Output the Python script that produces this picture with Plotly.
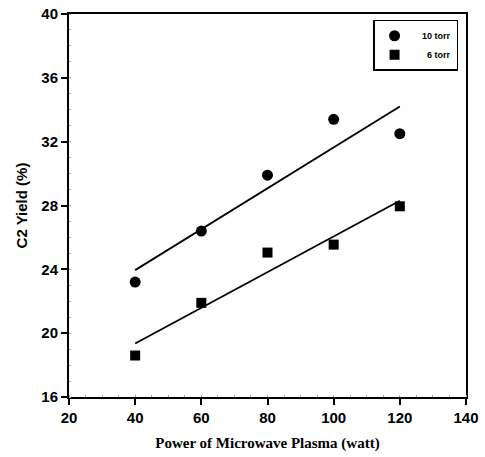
import plotly.graph_objects as go

power = [40, 60, 80, 100, 120]
yield_10torr = [23.2, 26.4, 29.9, 33.4, 32.5]
yield_6torr = [18.6, 21.9, 25.05, 25.55, 27.95]
fit_x = [40, 120]
fit_10torr = [23.95, 34.2]
fit_6torr = [19.35, 28.3]
x_ticks = [20, 40, 60, 80, 100, 120, 140]
y_ticks = [16, 20, 24, 28, 32, 36, 40]

fig = go.Figure()
fig.add_trace(go.Scatter(x=power, y=yield_10torr, mode="markers", name="<b>   10 torr</b>",
                         marker=dict(symbol="circle", size=11, color="black")))
fig.add_trace(go.Scatter(x=power, y=yield_6torr, mode="markers", name="<b>     6 torr</b>",
                         marker=dict(symbol="square", size=10, color="black")))
fig.add_trace(go.Scatter(x=fit_x, y=fit_10torr, mode="lines", showlegend=False,
                         line=dict(color="black", width=1.8)))
fig.add_trace(go.Scatter(x=fit_x, y=fit_6torr, mode="lines", showlegend=False,
                         line=dict(color="black", width=1.8)))

axis_common = dict(showgrid=False, zeroline=False, showline=True, linecolor="black",
                   linewidth=2, mirror=True, ticks="outside", ticklen=6, tickwidth=2,
                   tickcolor="black", automargin=False,
                   tickfont=dict(family="Liberation Sans, Arial", size=15, color="black", weight="bold"),
                   minor=dict(ticks="inside", ticklen=2, tickcolor="#aaa", tickwidth=1))

fig.update_xaxes(range=[20, 140], tickvals=x_ticks, **axis_common,
                 title=dict(text="<b>Power of Microwave Plasma (watt)</b>",
                            font=dict(family="Liberation Serif, Times New Roman", size=15, color="black"),
                            standoff=12))
fig.update_yaxes(range=[16, 40], tickvals=y_ticks, **axis_common,
                 title=dict(text="<b>C2 Yield (%)</b>",
                            font=dict(family="Liberation Sans, Arial", size=15, color="black"),
                            standoff=10))

fig.update_layout(
    width=485, height=457,
    margin=dict(l=69, r=19, t=14, b=60),
    paper_bgcolor="white", plot_bgcolor="white",
    legend=dict(x=0.98, y=0.985, xanchor="right", yanchor="top",
                bgcolor="white", bordercolor="black", borderwidth=1.5,
                font=dict(family="Liberation Sans, Arial", size=9, color="black"),
                itemwidth=30, tracegroupgap=0),
)
fig.write_html("out.html")
